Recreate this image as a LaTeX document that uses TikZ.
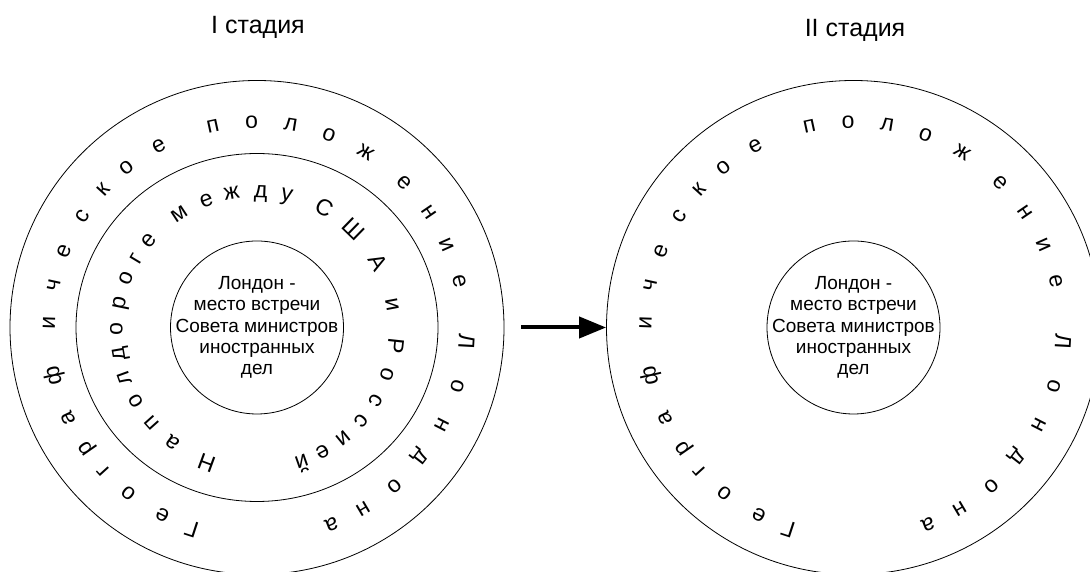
\documentclass[tikz,border=0pt]{standalone}
\usepackage{fontspec}
\setmainfont{Liberation Sans}
\usetikzlibrary{shapes.geometric,arrows.meta}
\newcommand\outerringtext[2]{%
  \foreach \ch/\a [count=\i] in {Г/251.9,е/243,о/231.8,г/222.3,р/214.8,а/205.1,ф/192.7,и/178,ч/167.6,е/157.8,с/146.9,к/137.7,о/128.7,е/118.1,п/102.2,о/91.5,л/80.7,о/69.8,ж/58.5,е/45,н/34.3,и/24,е/13.5,Л/-3.2,о/-15.8,н/-27,д/-37.9,о/-48.5,н/-59.4,а/-69}
    \node[ringletter, rotate=\a-90] (#2\i) at ([shift={(\a:202)}]#1) {\ch};
}
\begin{document}
\begin{tikzpicture}[x=1pt,y=1pt,
  ring/.style={draw=black, line width=0.8pt, inner sep=0pt},
  ringletter/.style={font=\fontsize{23}{23}\selectfont, inner sep=0pt, anchor=base},
  centertext/.style={font=\fontsize{19}{21.3}\selectfont, align=center, inner sep=0pt},
  titletext/.style={font=\fontsize{25}{28}\selectfont, inner sep=0pt},
  bigarrow/.style={line width=4pt, -{Triangle[length=27pt,width=21pt]}}
]
\useasboundingbox (0,0) rectangle (1090,572);
\clip (0,0) rectangle (1090,572);
\coordinate (cL) at (257,244.5);
\coordinate (cR) at (853.5,244.5);
\coordinate (tcL) at (257,242);
\coordinate (tcR) at (853.5,242);
\coordinate (mcL) at (255.5,241.5);

% titles
\node[titletext] (title1) at (258,545) {I стадия};
\node[titletext] (title2) at (855,542) {II стадия};

% left group
\node[ring, circle, minimum size=494pt] (outerL) at (cL) {};
\node[ring, ellipse, minimum width=362pt, minimum height=348pt] (midL) at (cL) {};
\node[ring, circle, minimum size=173pt] (innerL) at (cL) {};
\node[centertext] (textL) at (cL) {Лондон -\\место встречи\\Совета министров\\иностранных\\дел};
\outerringtext{tcL}{oL}
\foreach \ch/\a [count=\i] in {Н/249.7,а/233.6,п/221.8,о/210.6,л/199.9,д/189.8,о/179.2,р/168.5,о/158,г/149,е/139.8,м/123.3,е/110.6,ж/99.9,д/87.8,у/77,С/60.8,Ш/45.8,А/29.1,и/10.7,Р/-6.2,о/-18.5,с/-30,с/-40.5,и/-50.8,е/-61.2,й/-70.6}
  \node[ringletter, rotate=\a-90] (mL\i) at ([shift={(\a:133)}]mcL) {\ch};

% right group
\node[ring, circle, minimum size=494pt] (outerR) at (cR) {};
\node[ring, circle, minimum size=173pt] (innerR) at (cR) {};
\node[centertext] (textR) at (cR) {Лондон -\\место встречи\\Совета министров\\иностранных\\дел};
\outerringtext{tcR}{oR}

% arrow
\draw[bigarrow] ([xshift=17pt]outerL.east) -- (outerR.west);
\end{tikzpicture}
\end{document}
